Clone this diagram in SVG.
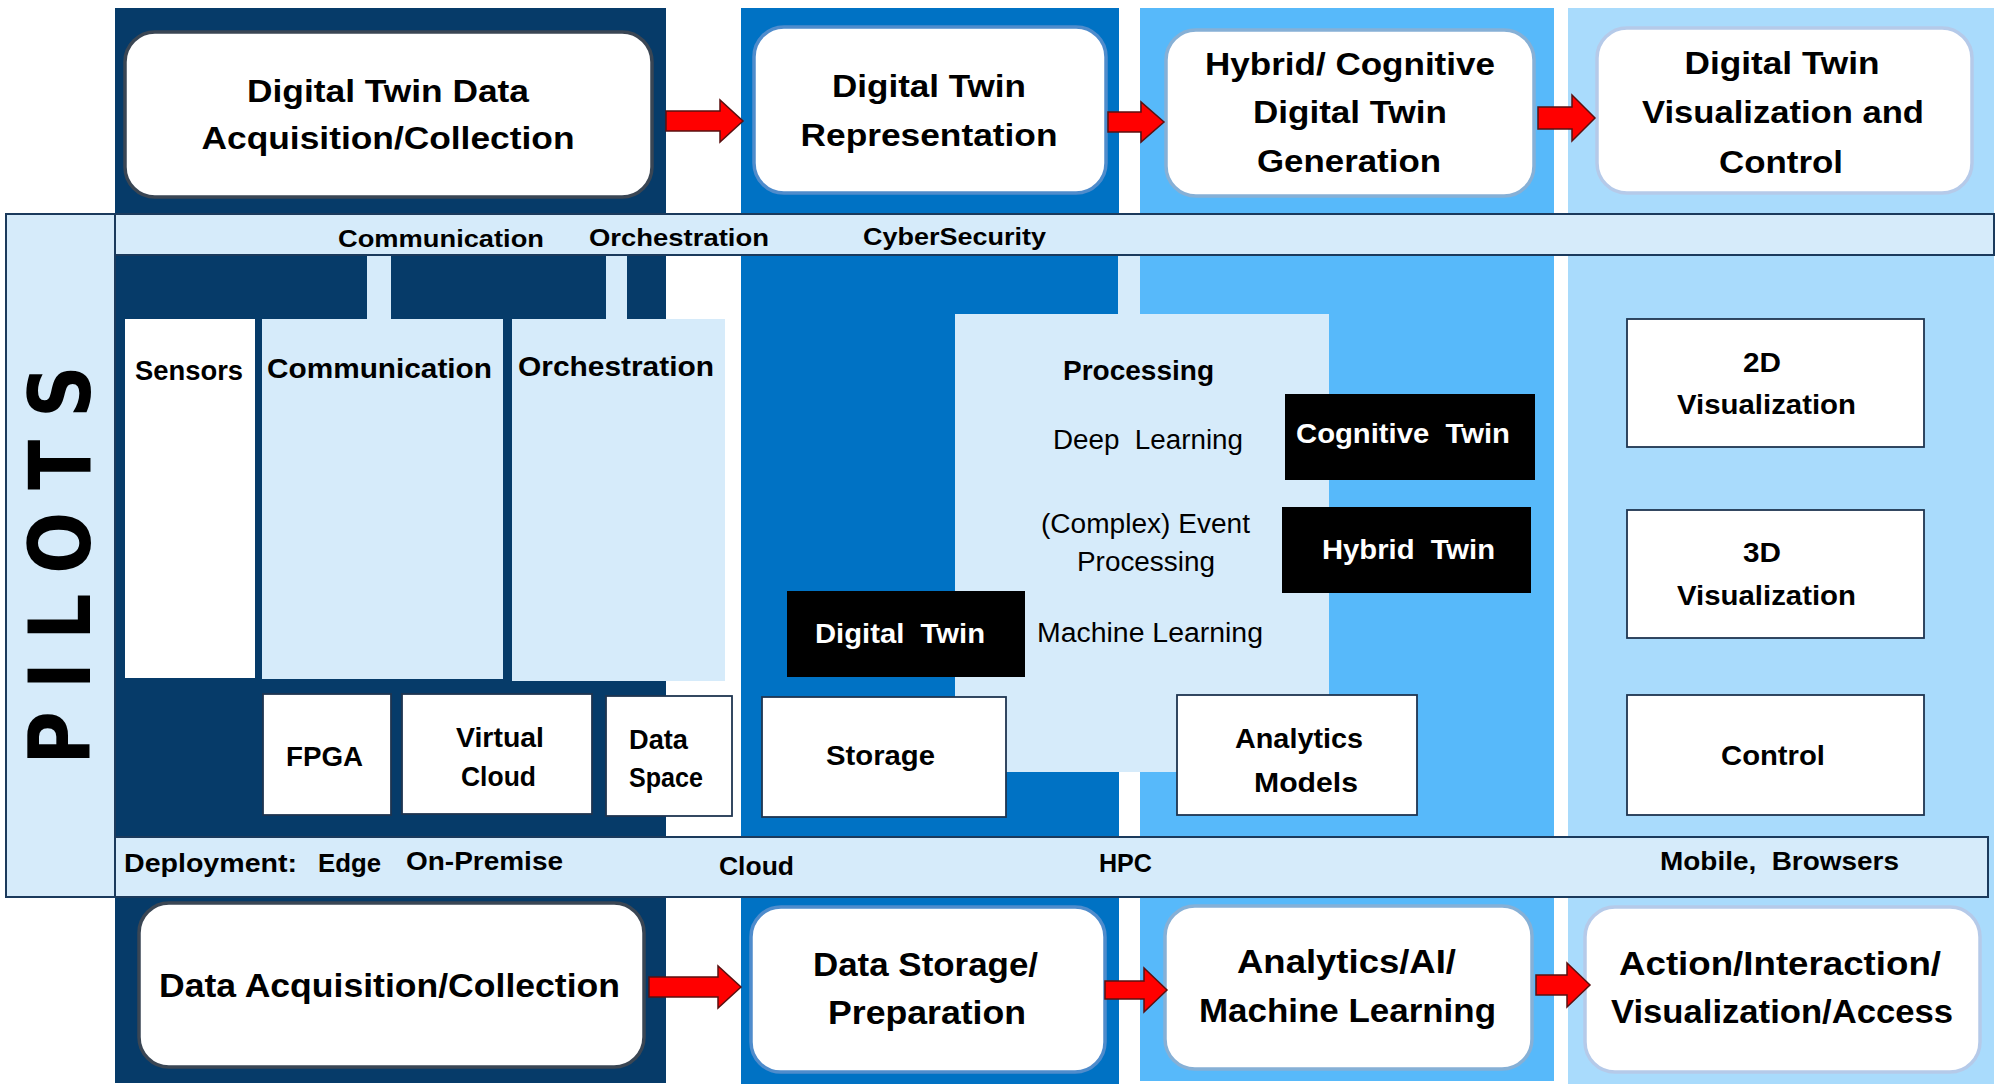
<svg xmlns="http://www.w3.org/2000/svg" width="2000" height="1092" viewBox="0 0 2000 1092">
<style>
text{font-family:"Liberation Sans",Arial,sans-serif;font-weight:bold;fill:#000}
.t31{font-size:31px}
.t33{font-size:33px}
.t28{font-size:28px}
.t25{font-size:25px}
.t24{font-size:24px}
.reg{font-weight:normal;font-size:27px}
.wt{fill:#fff}
.mid{text-anchor:middle}
.band{fill:#d6ebfa;stroke:#1b3a5c;stroke-width:2}
.lt{fill:#d6ebfa}
.wbox{fill:#fff;stroke:#1f3550;stroke-width:1.8}
.bbox{fill:#000}
.rb{stroke-width:3.5}
.arr{fill:#ff0000;stroke:#5a1010;stroke-width:1.5;stroke-linejoin:miter}
</style>
<rect width="2000" height="1092" fill="#fff"/>
<g id="columns">
<rect x="115" y="8" width="551" height="1075" fill="#063b69"/>
<rect x="741" y="8" width="378" height="1076" fill="#0072c4"/>
<rect x="1140" y="8" width="414" height="1073" fill="#57b9fa"/>
<rect x="1568" y="8" width="426" height="1076" fill="#a9dbfc"/>
</g>
<g id="pilots">
<rect x="6" y="214" width="109" height="683" class="band"/>
<text transform="translate(0,565) rotate(-90) scale(0.85,1)" x="0" y="90" class="mid" style="font-family:'DejaVu Sans',sans-serif;font-size:86px" textLength="470" lengthAdjust="spacing">PILOTS</text>
</g>
<g id="pillars">
<rect x="367" y="255" width="24" height="64" class="lt"/>
<rect x="606" y="255" width="21" height="64" class="lt"/>
<rect x="1118" y="255" width="22" height="60" class="lt"/>
</g>
<g id="cyber-band">
<rect x="115" y="214" width="1879" height="41" class="band"/>
<text x="338" y="247" class="t24" textLength="206" lengthAdjust="spacingAndGlyphs">Communication</text>
<text x="589" y="246" class="t24" textLength="180" lengthAdjust="spacingAndGlyphs">Orchestration</text>
<text x="863" y="245" class="t24" textLength="183" lengthAdjust="spacingAndGlyphs">CyberSecurity</text>
</g>
<g id="deploy-band">
<rect x="115" y="837" width="1873" height="60" class="band"/>
<text x="124" y="872" class="t25" textLength="173" lengthAdjust="spacingAndGlyphs">Deployment:</text>
<text x="318" y="872" class="t25" textLength="63" lengthAdjust="spacingAndGlyphs">Edge</text>
<text x="406" y="870" class="t25" textLength="157" lengthAdjust="spacingAndGlyphs">On-Premise</text>
<text x="719" y="875" class="t25" textLength="75" lengthAdjust="spacingAndGlyphs">Cloud</text>
<text x="1099" y="872" class="t25" textLength="53" lengthAdjust="spacingAndGlyphs">HPC</text>
<text x="1660" y="870" class="t25" xml:space="preserve" textLength="239" lengthAdjust="spacingAndGlyphs">Mobile,  Browsers</text>
</g>
<g id="top1">
<rect x="125" y="32" width="527" height="165" rx="30" fill="#fff" stroke="#3a4654" class="rb"/>
<text x="388" y="102" class="t31 mid" textLength="282" lengthAdjust="spacingAndGlyphs">Digital Twin Data</text>
<text x="388" y="149" class="t31 mid" textLength="373" lengthAdjust="spacingAndGlyphs">Acquisition/Collection</text>
</g>
<g id="top2">
<rect x="754" y="27" width="352" height="166" rx="30" fill="#fff" stroke="#4f8ccc" class="rb"/>
<text x="929" y="97" class="t31 mid" textLength="194" lengthAdjust="spacingAndGlyphs">Digital Twin</text>
<text x="929" y="146" class="t31 mid" textLength="257" lengthAdjust="spacingAndGlyphs">Representation</text>
</g>
<g id="top3">
<rect x="1166" y="30" width="368" height="166" rx="30" fill="#fff" stroke="#86b0d6" class="rb"/>
<text x="1350" y="75" class="t31 mid" textLength="290" lengthAdjust="spacingAndGlyphs">Hybrid/ Cognitive</text>
<text x="1350" y="123" class="t31 mid" textLength="194" lengthAdjust="spacingAndGlyphs">Digital Twin</text>
<text x="1349" y="172" class="t31 mid" textLength="184" lengthAdjust="spacingAndGlyphs">Generation</text>
</g>
<g id="top4">
<rect x="1597" y="28" width="375" height="165" rx="30" fill="#fff" stroke="#b5cae9" class="rb"/>
<text x="1782" y="74" class="t31 mid" textLength="195" lengthAdjust="spacingAndGlyphs">Digital Twin</text>
<text x="1783" y="123" class="t31 mid" textLength="282" lengthAdjust="spacingAndGlyphs">Visualization and</text>
<text x="1781" y="173" class="t31 mid" textLength="124" lengthAdjust="spacingAndGlyphs">Control</text>
</g>
<g id="sensors">
<rect x="125" y="319" width="130" height="359" fill="#fff"/>
<text x="135" y="380" class="t28" textLength="108" lengthAdjust="spacingAndGlyphs">Sensors</text>
</g>
<g id="communication">
<rect x="262" y="319" width="241" height="360" class="lt"/>
<text x="267" y="378" class="t28" textLength="225" lengthAdjust="spacingAndGlyphs">Communication</text>
</g>
<g id="orchestration">
<rect x="512" y="319" width="213" height="362" class="lt"/>
<text x="518" y="376" class="t28" textLength="196" lengthAdjust="spacingAndGlyphs">Orchestration</text>
</g>
<g id="fpga">
<rect x="263" y="694" width="128" height="121" class="wbox"/>
<text x="286" y="766" class="t28" textLength="77" lengthAdjust="spacingAndGlyphs">FPGA</text>
</g>
<g id="virtual-cloud">
<rect x="402" y="694" width="190" height="120" class="wbox"/>
<text x="456" y="747" class="t28" textLength="88" lengthAdjust="spacingAndGlyphs">Virtual</text>
<text x="461" y="786" class="t28" textLength="75" lengthAdjust="spacingAndGlyphs">Cloud</text>
</g>
<g id="data-space">
<rect x="606" y="696" width="126" height="120" class="wbox"/>
<text x="629" y="749" class="t28" textLength="59" lengthAdjust="spacingAndGlyphs">Data</text>
<text x="629" y="787" class="t28" textLength="74" lengthAdjust="spacingAndGlyphs">Space</text>
</g>
<g id="processing">
<rect x="955" y="314" width="374" height="458" class="lt"/>
<text x="1063" y="380" class="t28" textLength="151" lengthAdjust="spacingAndGlyphs">Processing</text>
<text x="1053" y="449" class="reg" xml:space="preserve" textLength="190" lengthAdjust="spacingAndGlyphs">Deep  Learning</text>
<text x="1041" y="533" class="reg" textLength="209" lengthAdjust="spacingAndGlyphs">(Complex) Event</text>
<text x="1077" y="571" class="reg" textLength="138" lengthAdjust="spacingAndGlyphs">Processing</text>
<text x="1037" y="642" class="reg" textLength="226" lengthAdjust="spacingAndGlyphs">Machine Learning</text>
</g>
<g id="cognitive-twin">
<rect x="1285" y="394" width="250" height="86" class="bbox"/>
<text x="1296" y="443" class="t28 wt" xml:space="preserve" textLength="214" lengthAdjust="spacingAndGlyphs">Cognitive  Twin</text>
</g>
<g id="hybrid-twin">
<rect x="1282" y="507" width="249" height="86" class="bbox"/>
<text x="1322" y="559" class="t28 wt" xml:space="preserve" textLength="173" lengthAdjust="spacingAndGlyphs">Hybrid  Twin</text>
</g>
<g id="digital-twin">
<rect x="787" y="591" width="238" height="86" class="bbox"/>
<text x="815" y="643" class="t28 wt" xml:space="preserve" textLength="170" lengthAdjust="spacingAndGlyphs">Digital  Twin</text>
</g>
<g id="storage">
<rect x="762" y="697" width="244" height="120" class="wbox"/>
<text x="826" y="765" class="t28" textLength="109" lengthAdjust="spacingAndGlyphs">Storage</text>
</g>
<g id="analytics-models">
<rect x="1177" y="695" width="240" height="120" class="wbox"/>
<text x="1235" y="748" class="t28" textLength="128" lengthAdjust="spacingAndGlyphs">Analytics</text>
<text x="1254" y="792" class="t28" textLength="104" lengthAdjust="spacingAndGlyphs">Models</text>
</g>
<g id="viz2d">
<rect x="1627" y="319" width="297" height="128" class="wbox"/>
<text x="1743" y="372" class="t28" textLength="38" lengthAdjust="spacingAndGlyphs">2D</text>
<text x="1677" y="414" class="t28" textLength="179" lengthAdjust="spacingAndGlyphs">Visualization</text>
</g>
<g id="viz3d">
<rect x="1627" y="510" width="297" height="128" class="wbox"/>
<text x="1743" y="562" class="t28" textLength="38" lengthAdjust="spacingAndGlyphs">3D</text>
<text x="1677" y="605" class="t28" textLength="179" lengthAdjust="spacingAndGlyphs">Visualization</text>
</g>
<g id="control">
<rect x="1627" y="695" width="297" height="120" class="wbox"/>
<text x="1721" y="765" class="t28" textLength="104" lengthAdjust="spacingAndGlyphs">Control</text>
</g>
<g id="bottom1">
<rect x="139" y="903" width="505" height="164" rx="30" fill="#fff" stroke="#3a4654" class="rb"/>
<text x="159" y="997" class="t33" textLength="461" lengthAdjust="spacingAndGlyphs">Data Acquisition/Collection</text>
</g>
<g id="bottom2">
<rect x="751" y="907" width="354" height="165" rx="30" fill="#fff" stroke="#4f8ccc" class="rb"/>
<text x="813" y="976" class="t33" textLength="225" lengthAdjust="spacingAndGlyphs">Data Storage/</text>
<text x="828" y="1024" class="t33" textLength="198" lengthAdjust="spacingAndGlyphs">Preparation</text>
</g>
<g id="bottom3">
<rect x="1165" y="906" width="367" height="163" rx="30" fill="#fff" stroke="#86b0d6" class="rb"/>
<text x="1237" y="973" class="t33" textLength="219" lengthAdjust="spacingAndGlyphs">Analytics/AI/</text>
<text x="1199" y="1022" class="t33" textLength="297" lengthAdjust="spacingAndGlyphs">Machine Learning</text>
</g>
<g id="bottom4">
<rect x="1585" y="907" width="395" height="165" rx="30" fill="#fff" stroke="#b5cae9" class="rb"/>
<text x="1619" y="975" class="t33" textLength="322" lengthAdjust="spacingAndGlyphs">Action/Interaction/</text>
<text x="1611" y="1023" class="t33" textLength="342" lengthAdjust="spacingAndGlyphs">Visualization/Access</text>
</g>
<g id="connectors">
<polygon class="arr" points="666,111 720,111 720,100 743,121 720,142 720,131 666,131"/>
<polygon class="arr" points="1108,112 1141,112 1141,102 1164,122 1141,142 1141,132 1108,132"/>
<polygon class="arr" points="1538,107 1572,107 1572,95 1595,118 1572,141 1572,129 1538,129"/>
<polygon class="arr" points="649,977 718,977 718,966 741,987 718,1008 718,997 649,997"/>
<polygon class="arr" points="1105,981 1144,981 1144,968 1167,990 1144,1012 1144,999 1105,999"/>
<polygon class="arr" points="1536,975 1567,975 1567,963 1590,985 1567,1007 1567,995 1536,995"/>
</g>
</svg>
